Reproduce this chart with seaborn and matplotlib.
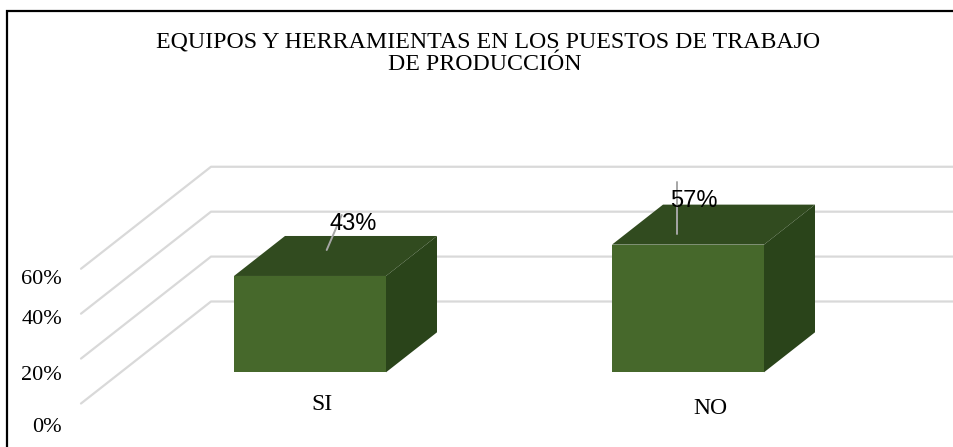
# Import necessary libraries
import matplotlib
matplotlib.use('Agg')
import matplotlib.pyplot as plt
import seaborn as sns
import pandas as pd
from matplotlib.patches import Polygon

# Data
categories = ['SI', 'NO']
values = [43, 57]
value_labels = ['43%', '57%']
grid_values = [0, 20, 40, 60]
tick_labels = ['0%', '20%', '40%', '60%']
title_lines = ['EQUIPOS Y HERRAMIENTAS EN LOS PUESTOS DE TRABAJO', 'DE PRODUCCIÓN']

W, H = 954, 447
FRONT = '#46682b'
TOP = '#314b1f'
SIDE = '#2a441a'
GRID = '#d9d9d9'
SERIF = 'Liberation Serif'

sns.set_theme(style='white')
plt.rcParams['font.family'] = [SERIF, 'DejaVu Sans']

fig = plt.figure(figsize=(W / 100, H / 100), dpi=100)

# Axes spans the bars: left/right chosen so that bars land on 234-386 and 612-764 px
px_per_cat = 378.0
x0 = 310 - 0.5 * px_per_cat
x1 = 688 + 0.5 * px_per_cat
base_px, px_per_val = 372.3, 2.24
ax = fig.add_axes([x0 / W, 1 - base_px / H, (x1 - x0) / W, 60 * px_per_val / H])

df = pd.DataFrame({'categoria': categories, 'valor': values})
sns.barplot(data=df, x='categoria', y='valor', color=FRONT, saturation=1,
            width=152 / px_per_cat, linewidth=0, ax=ax, zorder=3)
ax.set_ylim(0, 60)
ax.set_xlim(-0.5, 1.5)
ax.axis('off')
ax.set_zorder(2)
ax.patch.set_alpha(0)


def to_fig(x, y):
    # data position to figure pixels (top-left origin)
    px, py = ax.transData.transform((x, y))
    return px, H - py


def pixel_axes(zorder):
    # full-figure overlay in pixel coordinates for the fake 3D parts
    a = fig.add_axes([0, 0, 1, 1], zorder=zorder)
    a.set_xlim(0, W)
    a.set_ylim(H, 0)
    a.axis('off')
    a.patch.set_alpha(0)
    return a


back = pixel_axes(0)
faces = pixel_axes(1)
lab = pixel_axes(4)

# frame of the picture, only left and top show
back.plot([7.5, 7.5, W], [H, 10.5, 10.5], color='black', lw=1.6, solid_joinstyle='miter')

# wall grid lines and floor diagonals
wall_dy = -102
wall_base = 301.5
for v in grid_values:
    y = wall_base - v * 2.2456
    back.plot([81, 211, W], [y - wall_dy, y, y], color=GRID, lw=1.6, zorder=1)

# top and side faces, above the grid
dx, dy = 51, -40
for bar in ax.patches:
    xl, top = to_fig(bar.get_x(), bar.get_height())
    xr, bottom = to_fig(bar.get_x() + bar.get_width(), 0)
    faces.add_patch(Polygon([(xl, top), (xr, top), (xr + dx, top + dy), (xl + dx, top + dy)],
                            facecolor=TOP, edgecolor='none'))
    faces.add_patch(Polygon([(xr, top), (xr + dx, top + dy), (xr + dx, bottom + dy), (xr, bottom)],
                            facecolor=SIDE, edgecolor='none'))

# leader lines and value labels
lab.plot([326.7, 341.7], [250, 215], color='#a6a6a6', lw=1.4)
lab.plot([676.7, 676.7], [182, 234], color='#a6a6a6', lw=1.4)
for label, px, py in zip(value_labels, [353.5, 693.5], [224, 201]):
    lab.text(px, py, label, ha='center', va='center', fontsize=17,
             family=['Liberation Sans', 'DejaVu Sans'], color='black')

# category labels
for label, px, py in zip(categories, [322, 710], [404, 408]):
    lab.text(px, py, label, ha='center', va='center', fontsize=17, color='black')

# value axis labels are placed unevenly in the original
for label, py in zip(tick_labels, [428, 375, 320, 279]):
    lab.text(62, py, label, ha='right', va='center', fontsize=16, color='black')

# title
for line, px, py in zip(title_lines, [488, 485], [42, 65]):
    lab.text(px, py, line, ha='center', va='center', fontsize=17.2, color='black')

fig.savefig('out.png', dpi=100)
